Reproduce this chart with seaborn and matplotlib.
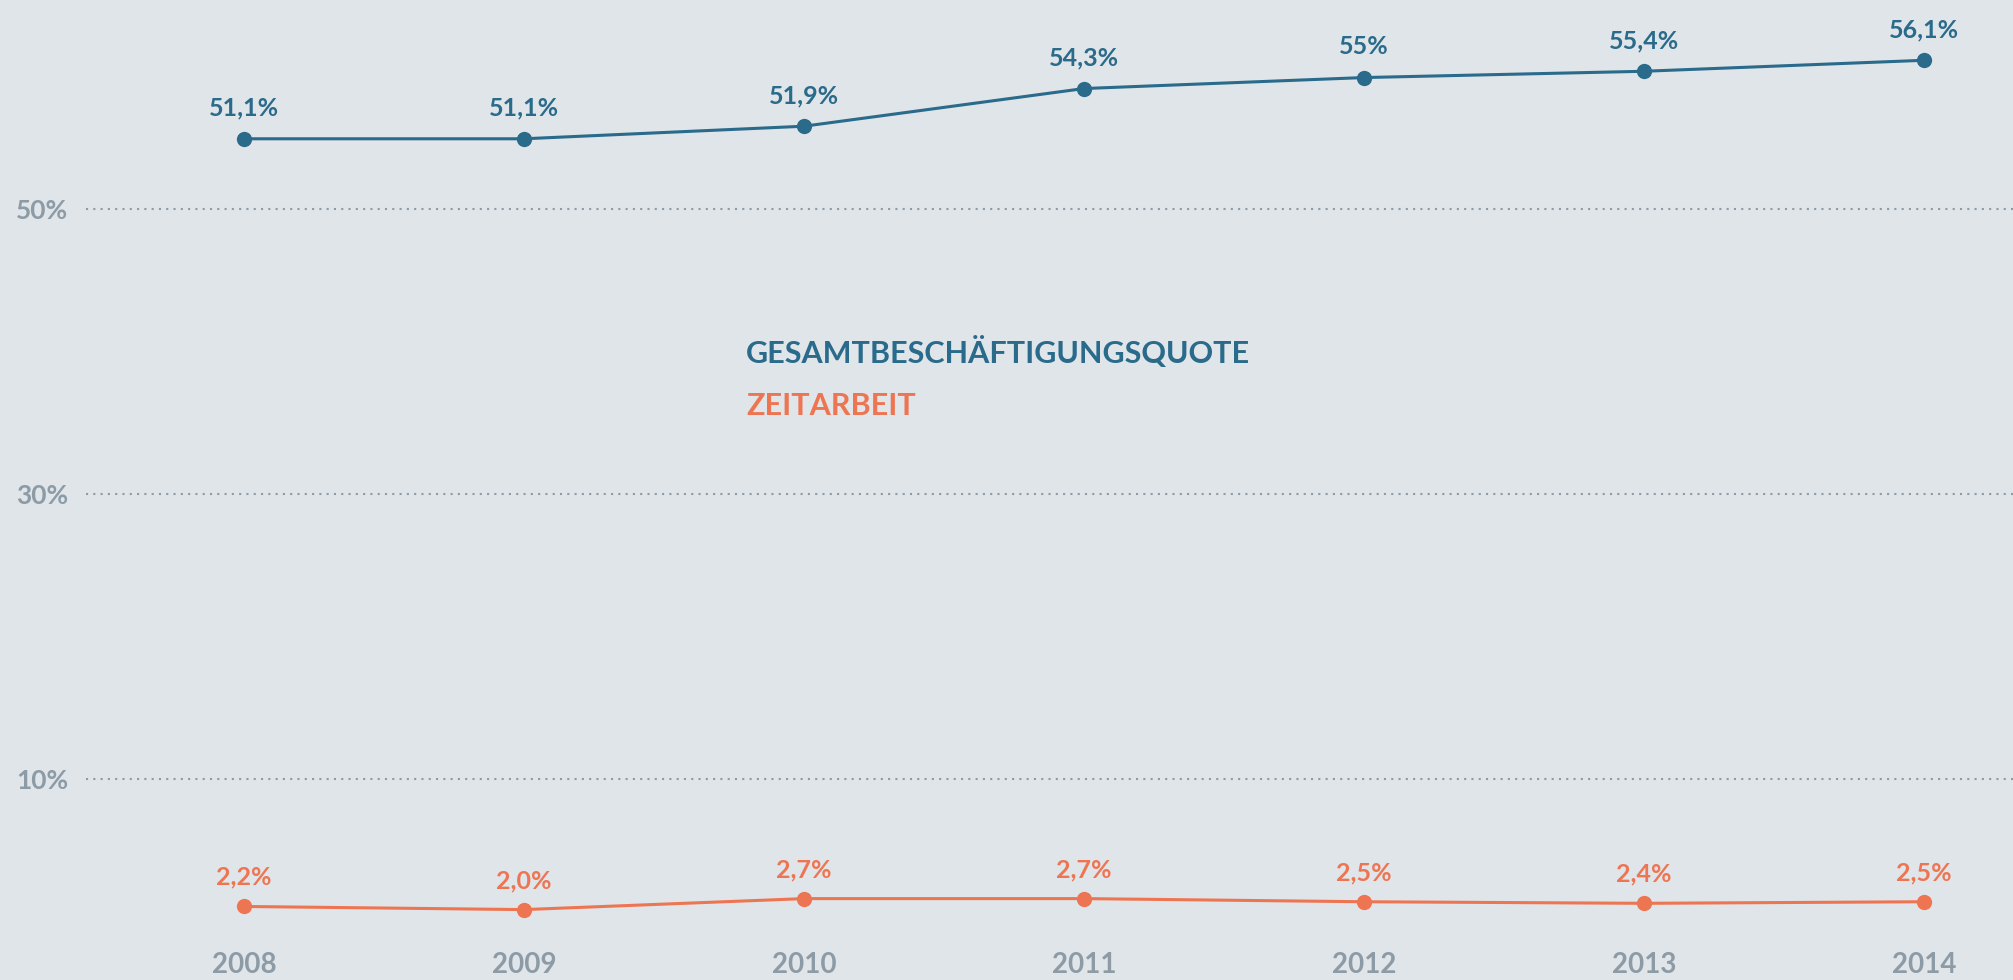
"""
Beschäftigungsquote vs. Zeitarbeit 2008-2014
"""

import matplotlib
matplotlib.use('Agg')
import matplotlib.pyplot as plt
import seaborn as sns
import pandas as pd

# Daten
years = [2008, 2009, 2010, 2011, 2012, 2013, 2014]
gesamt = [51.1, 51.1, 51.9, 54.3, 55.0, 55.4, 56.1]
zeitarbeit = [2.2, 2.0, 2.7, 2.7, 2.5, 2.4, 2.5]
gesamt_labels = ['51,1%', '51,1%', '51,9%', '54,3%', '55%', '55,4%', '56,1%']
zeit_labels = ['2,2%', '2,0%', '2,7%', '2,7%', '2,5%', '2,4%', '2,5%']
ytick_pos = [10.3, 28.5, 46.6]
ytick_labels = ['10%', '30%', '50%']

BG = '#dfe5e9'
BLUE = '#2a6a8a'
ORANGE = '#ee7552'
GREY = '#8c9ba6'

df = pd.DataFrame({
    'Jahr': years * 2,
    'Wert': gesamt + zeitarbeit,
    'Reihe': ['GESAMTBESCHÄFTIGUNGSQUOTE'] * len(years) + ['ZEITARBEIT'] * len(years),
})

sns.set_theme(style='white')
plt.rcParams['font.family'] = ['Lato', 'DejaVu Sans']
plt.rcParams['font.weight'] = 'bold'

fig = plt.figure(figsize=(20.13, 9.8), dpi=100, facecolor=BG)
ax = fig.add_axes([86 / 2013, 32 / 980, 1 - 86 / 2013, 1 - 32 / 980])
ax.set_facecolor(BG)

sns.lineplot(data=df, x='Jahr', y='Wert', hue='Reihe',
             palette=[BLUE, ORANGE], marker='o', markersize=11,
             markeredgewidth=0, linewidth=2.2, legend=False, ax=ax)

# Wertbeschriftungen
for x, y, lab in zip(years, gesamt, gesamt_labels):
    ax.annotate(lab, (x, y), xytext=(0, 22), textcoords='offset points',
                ha='center', va='center', color=BLUE, fontsize=18, fontweight='bold')
for x, y, lab in zip(years, zeitarbeit, zeit_labels):
    ax.annotate(lab, (x, y), xytext=(0, 21), textcoords='offset points',
                ha='center', va='center', color=ORANGE, fontsize=18, fontweight='bold')

ax.set_xlim(2007.436, 2014.318)
ax.set_ylim(-0.446, 59.94)
ax.set_xticks(years)
ax.set_xticklabels([str(y) for y in years])
ax.set_yticks(ytick_pos)
ax.set_yticklabels(ytick_labels)
ax.tick_params(axis='x', length=0, pad=3, labelsize=20, labelcolor=GREY)
ax.tick_params(axis='y', length=0, pad=13, labelsize=19, labelcolor=GREY)
ax.yaxis.grid(True, color=GREY, linestyle=(0, (1, 2.5)), linewidth=1.5)
ax.set_xlabel('')
ax.set_ylabel('')
sns.despine(ax=ax, left=True, bottom=True)

# Legende als Text
fig.text(746 / 2013, 1 - 352 / 980, 'GESAMTBESCHÄFTIGUNGSQUOTE', color=BLUE,
         fontsize=22, fontweight='bold', va='center', ha='left')
fig.text(746 / 2013, 1 - 406 / 980, 'ZEITARBEIT', color=ORANGE,
         fontsize=22, fontweight='bold', va='center', ha='left')

fig.savefig('out.png', dpi=100, facecolor=BG)
plt.close(fig)
